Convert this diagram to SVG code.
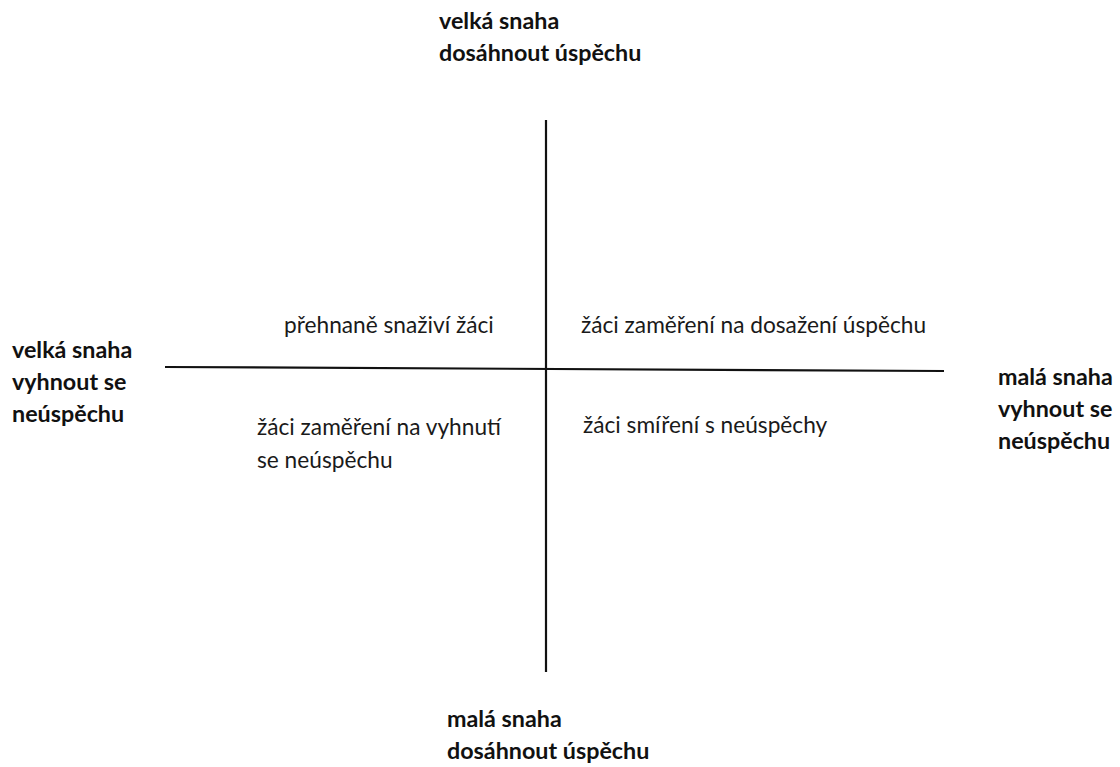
<svg xmlns="http://www.w3.org/2000/svg" width="1120" height="767" viewBox="0 0 1120 767">
<style>
text{font-family:Lato,"Open Sans","Liberation Sans",sans-serif;font-size:22.7px;fill:#1a1a1a}
.b{font-weight:bold;font-size:23.3px;fill:#111}
.ax{stroke:#111;stroke-width:2.2;fill:none}
</style>
<rect width="1120" height="767" fill="#fff"/>
<g id="connectors">
<line class="ax" x1="546" y1="120" x2="546" y2="672"/>
<line class="ax" x1="165" y1="367" x2="944" y2="371"/>
</g>
<g id="top"><text class="b" x="439" y="29">velká snaha</text><text class="b" x="439" y="61">dosáhnout úspěchu</text></g>
<g id="bottom"><text class="b" x="447" y="727">malá snaha</text><text class="b" x="447" y="759">dosáhnout úspěchu</text></g>
<g id="left"><text class="b" x="12" y="358">velká snaha</text><text class="b" x="12" y="390">vyhnout se</text><text class="b" x="12" y="422">neúspěchu</text></g>
<g id="right"><text class="b" x="998" y="385">malá snaha</text><text class="b" x="998" y="417">vyhnout se</text><text class="b" x="998" y="449">neúspěchu</text></g>
<g id="q1"><text x="284" y="333">přehnaně snaživí žáci</text></g>
<g id="q2"><text x="581" y="333">žáci zaměření na dosažení úspěchu</text></g>
<g id="q3"><text x="257" y="435">žáci zaměření na vyhnutí</text><text x="257" y="468">se neúspěchu</text></g>
<g id="q4"><text x="583" y="433">žáci smíření s neúspěchy</text></g>
</svg>
